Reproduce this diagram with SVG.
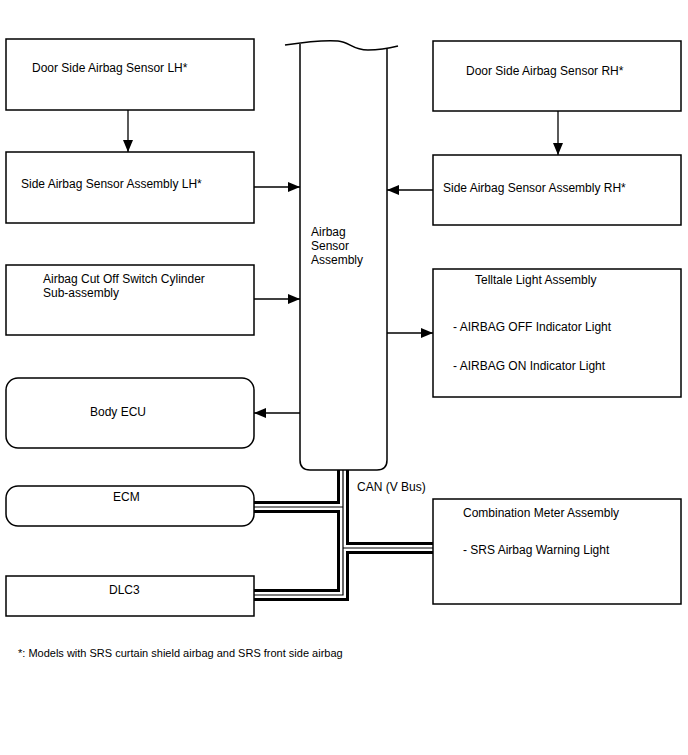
<svg xmlns="http://www.w3.org/2000/svg" width="688" height="755" viewBox="0 0 688 755">
<defs>
<marker id="ah" viewBox="0 0 12 10" refX="12" refY="5" markerWidth="12" markerHeight="10" markerUnits="userSpaceOnUse" orient="auto">
<path d="M0,0 L12,5 L0,10 Z" fill="#000"/>
</marker>
</defs>
<style>
.box{fill:#fff;stroke:#000;stroke-width:1.5}
.t{font-family:"Liberation Sans",Arial,sans-serif;font-size:12px;fill:#000}
.fn{font-family:"Liberation Sans",Arial,sans-serif;font-size:11px;fill:#000}
.arr{fill:none;stroke:#000;stroke-width:1.3;marker-end:url(#ah)}
.busO{fill:none;stroke:#000;stroke-width:12}
.busW{fill:none;stroke:#fff;stroke-width:6}
.busI{fill:none;stroke:#000;stroke-width:1.2}
</style>
<rect width="688" height="755" fill="#fff"/>

<g id="connectors">
<path class="arr" d="M128,110 V152"/>
<path class="arr" d="M558,111 V155"/>
<path class="arr" d="M254,187 H300"/>
<path class="arr" d="M433,190 H387"/>
<path class="arr" d="M254,299 H300"/>
<path class="arr" d="M387,333 H433"/>
<path class="arr" d="M300,413 H254"/>
<g id="can-bus">
<path class="busO" d="M343,470 V595 H254 M343,507 H254 M343,548 H433"/>
<path class="busW" d="M343,470 V595 H254 M343,507 H254 M343,548 H433"/>
<path class="busI" d="M343,470 V595 H254 M343,507 H254 M343,548 H433"/>
</g>
<text class="t" x="357" y="491">CAN (V Bus)</text>
</g>

<g id="airbag-sensor-assembly">
<path class="box" d="M300,44 V460 Q300,470 310,470 H377 Q387,470 387,460 V49"/>
<path fill="none" stroke="#000" stroke-width="1.5" d="M285,45 C305,42 325,40 338,41 C350,42 352,50 368,50 C380,50 390,48 398,46"/>
<text class="t" x="311" y="236">Airbag</text>
<text class="t" x="311" y="250">Sensor</text>
<text class="t" x="311" y="264">Assembly</text>
</g>

<g id="door-lh">
<rect class="box" x="6" y="39" width="248" height="71"/>
<text class="t" x="32" y="72">Door Side Airbag Sensor LH*</text>
</g>
<g id="side-lh">
<rect class="box" x="6" y="152" width="248" height="71"/>
<text class="t" x="21" y="188">Side Airbag Sensor Assembly LH*</text>
</g>
<g id="cutoff">
<rect class="box" x="6" y="265" width="248" height="70"/>
<text class="t" x="43" y="283">Airbag Cut Off Switch Cylinder</text>
<text class="t" x="43" y="297">Sub-assembly</text>
</g>
<g id="body-ecu">
<rect class="box" x="6" y="378" width="248" height="70" rx="12"/>
<text class="t" x="90" y="416">Body ECU</text>
</g>
<g id="ecm">
<rect class="box" x="6" y="486" width="248" height="40" rx="12"/>
<text class="t" x="113" y="501">ECM</text>
</g>
<g id="dlc3">
<rect class="box" x="6" y="576" width="248" height="40"/>
<text class="t" x="109" y="594">DLC3</text>
</g>

<g id="door-rh">
<rect class="box" x="433" y="41" width="248" height="70"/>
<text class="t" x="466" y="75">Door Side Airbag Sensor RH*</text>
</g>
<g id="side-rh">
<rect class="box" x="433" y="155" width="248" height="70"/>
<text class="t" x="443" y="192">Side Airbag Sensor Assembly RH*</text>
</g>
<g id="telltale">
<rect class="box" x="433" y="269" width="248" height="128"/>
<text class="t" x="475" y="284">Telltale Light Assembly</text>
<text class="t" x="453" y="331">- AIRBAG OFF Indicator Light</text>
<text class="t" x="453" y="370">- AIRBAG ON Indicator Light</text>
</g>
<g id="combination-meter">
<rect class="box" x="433" y="499" width="248" height="105"/>
<text class="t" x="463" y="517">Combination Meter Assembly</text>
<text class="t" x="463" y="554">- SRS Airbag Warning Light</text>
</g>

<text class="fn" x="18" y="657">*: Models with SRS curtain shield airbag and SRS front side airbag</text>
</svg>
